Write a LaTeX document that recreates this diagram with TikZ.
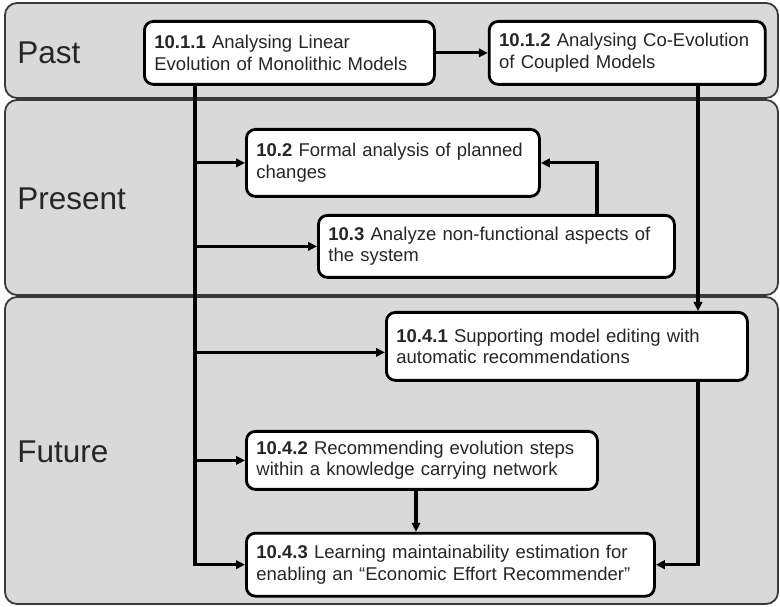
\documentclass[tikz,border=0pt]{standalone}
\usepackage{fontspec}
\setmainfont{Liberation Sans}
\usetikzlibrary{positioning,arrows.meta}

\definecolor{bandgray}{HTML}{D9D9D9}
\definecolor{bandline}{HTML}{3A3A3A}

\tikzset{
  band/.style={draw=bandline, line width=1.8pt, fill=bandgray, rounded corners=12pt, inner sep=0pt},
  phase/.style={anchor=west, inner sep=0pt, font=\fontsize{31.5}{36}\selectfont, text=black!85},
  topic/.style={draw, line width=2.8pt, fill=white, rounded corners=9pt, align=left,
    inner xsep=10pt, inner ysep=4pt, font=\fontsize{18.5}{21.5}\selectfont, text=black!85},
  conn/.style={line width=3.1pt, -{Triangle[length=9pt,width=8.5pt]}}
}

\begin{document}
\begin{tikzpicture}[x=1pt, y=1pt]
  \useasboundingbox (0,0) rectangle (780,606);

  % time bands
  \node[band, minimum width=773pt, minimum height=95pt] (past) at (391.5,555.5) {};
  \node[band, minimum width=773pt, minimum height=195pt] (present) at (391.5,408.5) {};
  \node[band, minimum width=773pt, minimum height=307pt] (future) at (391.5,155.5) {};

  \node[phase] (pastlbl) at ([xshift=13pt,yshift=-2pt]past.west) {Past};
  \node[phase] (presentlbl) at ([xshift=13pt,yshift=-1pt]present.west) {Present};
  \node[phase] (futurelbl) at ([xshift=13pt,yshift=-1pt]future.west) {Future};

  % topics
  \node[topic, text width=270pt, minimum height=63pt, anchor=north west] (s111) at (143,586)
    {\textbf{10.1.1} Analysing Linear\\Evolution of Monolithic Models};
  \node[topic, text width=256pt, minimum height=63pt, right=52pt of s111] (s112)
    {\textbf{10.1.2} Analysing Co-Evolution\\of Coupled Models};
  \node[topic, text width=273pt, minimum height=67pt, anchor=north west] (s2) at (245,478)
    {\textbf{10.2} Formal analysis of planned\\changes};
  \node[topic, text width=336pt, minimum height=62pt, anchor=north west] (s3) at (317,392)
    {\textbf{10.3} Analyze non-functional aspects of\\the system};
  \node[topic, text width=341pt, minimum height=68pt, anchor=north west] (s41) at (385,295)
    {\textbf{10.4.1} Supporting model editing with\\automatic recommendations};
  \node[topic, text width=331pt, minimum height=58pt, anchor=north west] (s42) at (245,176)
    {\textbf{10.4.2} Recommending evolution steps\\within a knowledge carrying network};
  \node[topic, text width=388pt, minimum height=63pt, below=41pt of s42.south west, anchor=north west] (s43)
    {\textbf{10.4.3} Learning maintainability estimation for\\enabling an “Economic Effort Recommender”};

  % connectors
  \coordinate (trunk) at (195,0);
  \coordinate (rail) at (698,0);
  \coordinate (loop) at (597,0);
  \coordinate (drop) at (416,0);
  \coordinate (s41in) at ([yshift=-6pt]s41.west);

  \draw[conn] (s111) -- (s112);
  \draw[conn] (trunk |- s111.south) |- (s43.west);
  \draw[conn] (trunk |- s2.west) -- (s2.west);
  \draw[conn] (trunk |- s3.west) -- (s3.west);
  \draw[conn] (trunk |- s41in) -- (s41in);
  \draw[conn] (trunk |- s42.west) -- (s42.west);
  \draw[conn] (loop |- s3.north) |- (s2.east);
  \draw[conn] (rail |- s112.south) -- (rail |- s41.north);
  \draw[conn] (rail |- s41.south) |- (s43.east);
  \draw[conn] (drop |- s42.south) -- (drop |- s43.north);
\end{tikzpicture}
\end{document}
